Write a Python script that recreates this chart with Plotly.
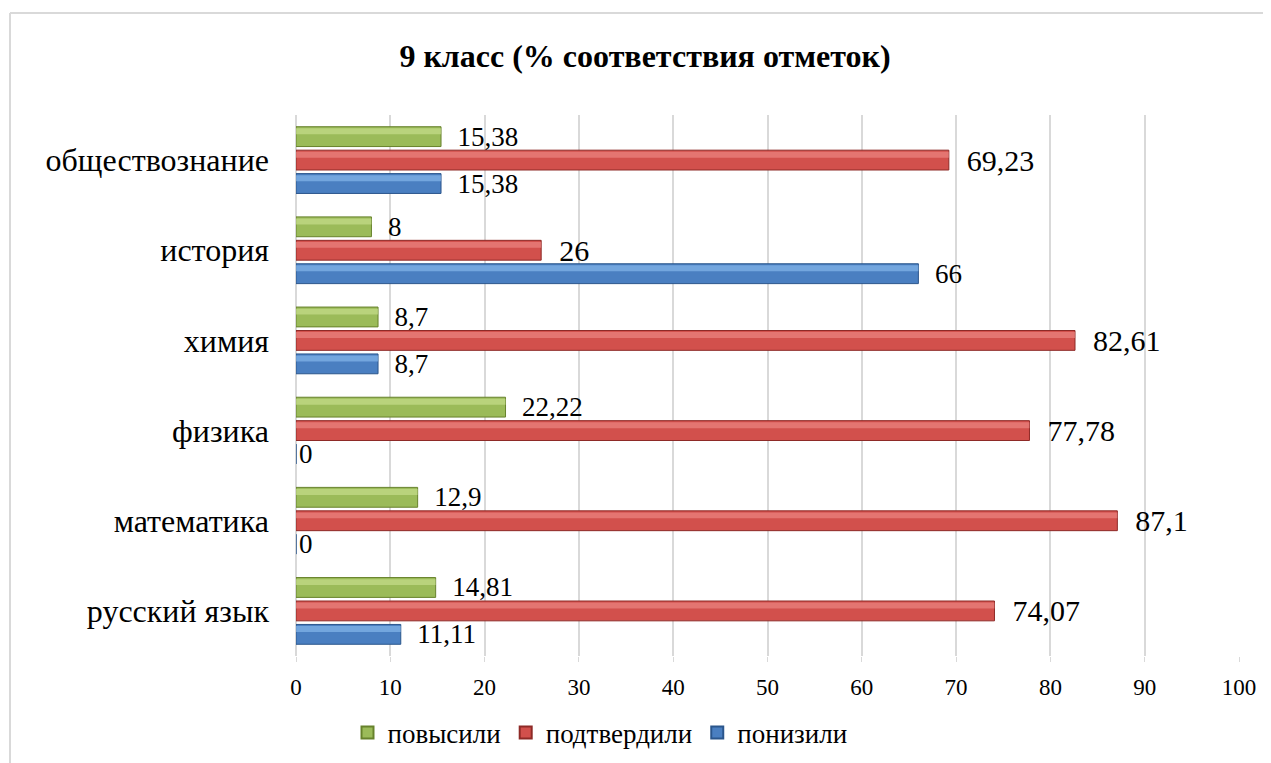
import plotly.graph_objects as go

categories = ["русский язык", "математика", "физика", "химия", "история", "обществознание"]
povysili = [14.81, 12.9, 22.22, 8.7, 8, 15.38]
podtverdili = [74.07, 87.1, 77.78, 82.61, 26, 69.23]
ponizili = [11.11, 0, 0, 8.7, 66, 15.38]
series_names = ["повысили", "подтвердили", "понизили"]
x_ticks = list(range(0, 101, 10))

NBSP = "\u00a0"

def fmt(v):
    s = ("%g" % v).replace(".", ",")
    return s if v == 0 else NBSP * 2 + s

FONT = "Liberation Serif"
FW, FH = 1263, 755
OX, OY = 8, 8
L, R, T, B = 296 - OX, 1239 - OX, 115 - OY, 656 - OY
PW, PH = R - L, B - T

W = 0.22
series = [
    (series_names[2], ponizili, -0.37, "#4a7fc1", "#8fc0f2", "#2b568c", 27),
    (series_names[1], podtverdili, -0.11, "#d2504c", "#f08e8b", "#8e2a27", 30),
    (series_names[0], povysili, 0.15, "#9bbb59", "#cde394", "#67822c", 27),
]

fig = go.Figure()
for name, vals, off, main, light, dark, fs in series:
    fig.add_trace(go.Bar(
        y=categories, x=vals, orientation="h", name=name,
        width=W, offset=off,
        marker=dict(color=main, line=dict(color=dark, width=1)),
        text=[fmt(v) for v in vals], textposition="outside", constraintext="none",
        textfont=dict(family=FONT, size=fs, color="#000000"),
        cliponaxis=False, showlegend=True,
    ))
    fig.add_trace(go.Bar(
        y=categories, x=vals, orientation="h", name=name + "_hl",
        width=W * 0.3, offset=off + W * 0.62,
        marker=dict(color=light, opacity=0.6, line=dict(width=0)),
        showlegend=False, hoverinfo="skip",
    ))

def px_x(p):
    return (p - OX - L) / PW

def px_y(p):
    return (B - (p - OY)) / PH

fig.update_layout(
    width=FW, height=FH,
    barmode="overlay",
    paper_bgcolor="white", plot_bgcolor="white",
    margin=dict(l=L, r=FW - R, t=T, b=FH - B, pad=0),
    font=dict(family=FONT, color="#000000"),
    title=dict(text="<b>9 класс (% соответствия отметок)</b>", x=(645 - OX) / FW, xanchor="center",
               y=1 - (56 - OY) / FH, yanchor="middle", font=dict(family=FONT, size=32, color="#000000")),
    xaxis=dict(range=[0, 100], tickvals=x_ticks, ticktext=[str(t) for t in x_ticks],
               showgrid=True, gridcolor="#d9d9d9", gridwidth=1.5,
               zeroline=True, zerolinecolor="#d9d9d9", zerolinewidth=1.5,
               tickfont=dict(family=FONT, size=23, color="#000000"),
               ticks="outside", ticklen=5, tickcolor="#d9d9d9", ticklabelstandoff=5,
               showline=False, fixedrange=True, automargin=False),
    yaxis=dict(categoryorder="array", categoryarray=categories,
               tickfont=dict(family=FONT, size=32, color="#000000"),
               ticks="", ticklabelstandoff=26, showgrid=False, zeroline=False,
               fixedrange=True, automargin=False),
    legend=dict(orientation="h", x=(600 - OX) / FW, xanchor="center", xref="container",
                y=1 - (733 - OY) / FH, yanchor="middle", yref="container",
                traceorder="reversed",
                font=dict(family=FONT, size=27, color="#000000"),
                itemwidth=30, itemsizing="constant"),
    showlegend=True,
    shapes=[
        dict(type="line", xref="paper", yref="paper", x0=px_x(10), x1=px_x(1271),
             y0=px_y(13), y1=px_y(13), line=dict(color="#d9d9d9", width=2)),
        dict(type="line", xref="paper", yref="paper", x0=px_x(10), x1=px_x(10),
             y0=px_y(13), y1=px_y(770), line=dict(color="#d9d9d9", width=2)),
    ],
)

fig.write_html("out.html")
